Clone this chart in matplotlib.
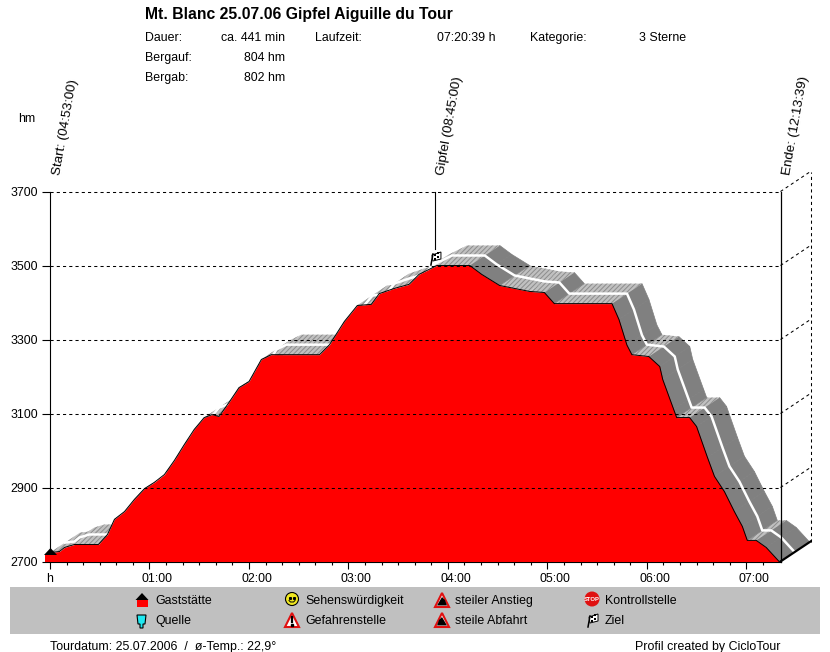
import matplotlib
matplotlib.use("Agg")
import matplotlib.pyplot as plt
from matplotlib.patches import Circle, Polygon, Rectangle
from matplotlib.transforms import ScaledTranslation

plt.rcParams["font.family"] = ["Liberation Sans", "DejaVu Sans"]
plt.rcParams["hatch.linewidth"] = 0.7

# profil: stunden seit start / hoehe in hm
stunden = [0, 0.095, 0.146, 0.246, 0.487, 0.578, 0.648, 0.749, 0.849, 0.95, 1.05, 1.15, 1.25,
           1.35, 1.45, 1.55, 1.63, 1.70, 1.80, 1.90, 2.0, 2.125, 2.225, 2.71, 2.81, 2.96, 3.09,
           3.23, 3.31, 3.46, 3.61, 3.71, 3.89, 4.22, 4.34, 4.52, 4.82, 4.97, 5.07, 5.65, 5.72,
           5.80, 5.85, 6.02, 6.13, 6.16, 6.27, 6.30, 6.43, 6.50, 6.61, 6.68, 6.78, 6.88, 6.96,
           7.01, 7.10, 7.20, 7.33]
hoehe = [2724, 2727, 2738, 2746, 2746, 2773, 2814, 2835, 2868, 2897, 2914, 2935, 2973,
         3016, 3057, 3089, 3097, 3092, 3130, 3170, 3186, 3246, 3259, 3259, 3286, 3349, 3392,
         3395, 3424, 3438, 3449, 3476, 3500, 3500, 3476, 3446, 3430, 3427, 3397, 3397, 3354,
         3285, 3259, 3254, 3227, 3192, 3111, 3089, 3089, 3065, 2981, 2930, 2889, 2835, 2795,
         2757, 2757, 2738, 2700]

y_ticks = [2700, 2900, 3100, 3300, 3500, 3700]
x_ticks = [0, 1, 2, 3, 4, 5, 6, 7]
x_labels = ["h", "01:00", "02:00", "03:00", "04:00", "05:00", "06:00", "07:00"]
ende_h = 7.344
gipfel_h = 3.87

kopf = [("Dauer:", 144.5, 38), ("Bergauf:", 144.5, 58), ("Bergab:", 144.5, 78),
        ("Laufzeit:", 314.5, 38), ("Kategorie:", 529.5, 38), ("3 Sterne", 639, 38)]
kopf_rechts = [("ca. 441 min", 285, 38), ("804 hm", 285, 58), ("802 hm", 285, 78),
               ("07:20:39 h", 495, 38)]
legende = [("Gaststätte", 155, 601), ("Quelle", 155, 621), ("Sehenswürdigkeit", 305, 601),
           ("Gefahrenstelle", 305, 621), ("steiler Anstieg", 455, 601), ("steile Abfahrt", 455, 621),
           ("Kontrollstelle", 605, 601), ("Ziel", 605, 621)]

X0, X1, Y0, Y1 = 50, 780.5, 191.5, 561.5
PX_H = (X1 - X0) / ende_h
PX_M = (Y1 - Y0) / 1000
TIEFE_X = 30 / PX_H
TIEFE_Y = 20 / PX_M
SCHRIFT = 8.9

fig = plt.figure(figsize=(8.3, 6.52), dpi=100)
ax = fig.add_axes([X0 / 830, 1 - Y1 / 652, (X1 - X0) / 830, (Y1 - Y0) / 652])
ax.set_xlim(0, ende_h)
ax.set_ylim(2700, 3700)
for s in ["top", "right"]:
    ax.spines[s].set_visible(False)
ax.spines["left"].set_linewidth(0.8)
ax.spines["bottom"].set_linewidth(0.8)

# 3d band hinter dem profil
for i in range(len(stunden) - 2, -1, -1):
    t0, t1 = stunden[i], stunden[i + 1]
    h0, h1 = hoehe[i], hoehe[i + 1]
    xs = [t0, t1, t1 + TIEFE_X, t0 + TIEFE_X]
    ys = [h0, h1, h1 + TIEFE_Y, h0 + TIEFE_Y]
    steil = (h0 - h1) * PX_M / ((t1 - t0) * PX_H)
    if steil > 0.45:
        ax.fill(xs, ys, facecolor="#808080", edgecolor="#808080", lw=0.5, zorder=1, clip_on=False)
    else:
        ax.fill(xs, ys, facecolor="#c0c0c0", edgecolor="#8c8c8c", hatch="///////", lw=0, zorder=1, clip_on=False)
ax.plot([t + TIEFE_X / 2 for t in stunden], [h + TIEFE_Y / 2 for h in hoehe],
        color="white", lw=1.8, zorder=2, clip_on=False)

ax.fill_between(stunden, hoehe, 2700, color="#ff0000", lw=0, zorder=3)
ax.plot(stunden, hoehe, color="black", lw=0.7, zorder=4, clip_on=False)

# gitter und rueckwand
for y in y_ticks:
    ax.plot([0, ende_h], [y, y], color="black", lw=0.75, ls=(0, (3, 3)), zorder=5)
    if y > 2700:
        ax.plot([ende_h, ende_h + TIEFE_X], [y, y + TIEFE_Y], color="black", lw=0.75,
                ls=(0, (3, 3)), zorder=5, clip_on=False)
ax.plot([ende_h + TIEFE_X] * 2, [2700 + TIEFE_Y, 3700 + TIEFE_Y], color="black", lw=0.75,
        ls=(0, (3, 3)), zorder=5, clip_on=False)
ax.plot([ende_h, ende_h + TIEFE_X], [2700, 2700 + TIEFE_Y], color="black", lw=1.6, zorder=6, clip_on=False)
ax.plot([ende_h, ende_h], [2700, 3700], color="black", lw=0.9, zorder=6, clip_on=False)
ax.plot([gipfel_h, gipfel_h], [3545, 3700], color="black", lw=0.8, zorder=6)

ax.set_yticks(y_ticks)
ax.set_yticklabels([str(y) for y in y_ticks], fontsize=SCHRIFT)
ax.set_xticks(x_ticks)
ax.set_xticklabels(x_labels, fontsize=SCHRIFT)
ax.set_xticks([m / 6 for m in range(0, 44)], minor=True)
ax.tick_params(axis="y", length=6, width=0.8, pad=2.5)
ax.tick_params(axis="x", length=5, width=0.8, pad=3.5)
ax.tick_params(axis="x", which="minor", length=2, width=0.8)
verschub = ScaledTranslation(8 / 100, 0, fig.dpi_scale_trans)
for lab in ax.get_xticklabels()[1:]:
    lab.set_transform(lab.get_transform() + verschub)

# overlay in pixeln fuer text und symbole
ov = fig.add_axes([0, 0, 1, 1], zorder=10)
ov.set_xlim(0, 830)
ov.set_ylim(652, 0)
ov.axis("off")
ov.patch.set_alpha(0)


def haus(x, y):
    ov.add_patch(Rectangle((x - 5.5, y), 11, 7, color="#ff0000", lw=0))
    ov.add_patch(Polygon([(x - 6.5, y), (x, y - 7), (x + 6.5, y)], color="black", lw=0))


def becher(x, y):
    ov.add_patch(Polygon([(x - 5, y - 6), (x + 4, y - 6), (x + 3, y + 3), (x + 1, y + 3), (x + 1, y + 7),
                          (x - 2, y + 7), (x - 2, y + 3), (x - 4, y + 3)],
                         facecolor="#20e8f0", edgecolor="black", lw=0.8))


def smiley(x, y):
    ov.add_patch(Circle((x, y), 6.5, facecolor="#f0e820", edgecolor="black", lw=0.8))
    ov.plot([x - 2, x + 2], [y - 1.5, y - 1.5], ls="", marker="s", ms=1.2, color="black")
    ov.plot([x - 3, x - 1.5, x + 1.5, x + 3], [y + 1.5, y + 3, y + 3, y + 1.5], color="black", lw=0.7)


def warnung(x, y, innen):
    ov.add_patch(Polygon([(x - 7, y + 7), (x, y - 7), (x + 7, y + 7)], facecolor="white",
                         edgecolor="#e01010", lw=1.5))
    if innen == "ausruf":
        ov.plot([x, x], [y - 3, y + 2], color="black", lw=1.6)
        ov.plot([x], [y + 4.5], marker="s", ms=1.8, color="black")
    elif innen == "auf":
        ov.add_patch(Polygon([(x - 5, y + 5.5), (x + 5, y + 5.5), (x + 3, y), (x, y - 3)], color="black", lw=0))
    else:
        ov.add_patch(Polygon([(x - 5, y + 5.5), (x + 5, y + 5.5), (x, y - 3), (x - 3, y)], color="black", lw=0))


def stop(x, y):
    ov.add_patch(Circle((x, y), 7.5, color="#e01010", lw=0))
    ov.text(x, y + 0.3, "STOP", fontsize=4.2, color="white", fontweight="bold", ha="center", va="center")


def flagge(x, y):
    ov.plot([x - 4, x - 2], [y + 7, y - 4], color="black", lw=1.1)
    ov.add_patch(Polygon([(x - 3, y - 3), (x + 6, y - 6), (x + 6, y + 1), (x - 2, y + 3)],
                         facecolor="white", edgecolor="black", lw=0.7))
    for dx, dy in [(0, -3), (3, -1), (0, 1), (3, -5)]:
        ov.add_patch(Rectangle((x + dx - 1, y + dy - 1), 2, 2, color="black", lw=0))


ov.add_patch(Rectangle((10, 587), 810, 47, color="#c0c0c0", lw=0, zorder=0))

ov.text(145, 14, "Mt. Blanc 25.07.06 Gipfel Aiguille du Tour", fontsize=11.3, fontweight="bold", va="center")
for txt, x, y in kopf:
    ov.text(x, y, txt, fontsize=SCHRIFT, va="center")
for txt, x, y in kopf_rechts:
    ov.text(x, y, txt, fontsize=SCHRIFT, va="center", ha="right")
ov.text(18, 119, "hm", fontsize=SCHRIFT, va="center")

for txt, x, y in [("Start: (04:53:00)", 51, 174), ("Gipfel (08:45:00)", 435, 174), ("Ende: (12:13:39)", 781, 174)]:
    ov.text(x, y, txt, fontsize=9.6, rotation=80, rotation_mode="anchor", ha="left", va="top")

for txt, x, y in legende:
    ov.text(x, y, txt, fontsize=SCHRIFT, va="center")
haus(142, 600)
becher(142, 621)
smiley(292, 599)
warnung(292, 620, "ausruf")
warnung(442, 600, "auf")
warnung(442, 620, "ab")
stop(592, 599)
flagge(592, 620)

haus(50.5, 555)
flagge(X0 + gipfel_h * PX_H, 258)

ov.text(50, 647, "Tourdatum: 25.07.2006  /  ø-Temp.: 22,9°", fontsize=SCHRIFT, va="center")
ov.text(780, 647, "Profil created by CicloTour", fontsize=SCHRIFT, va="center", ha="right")

fig.savefig("out.png", dpi=100)
